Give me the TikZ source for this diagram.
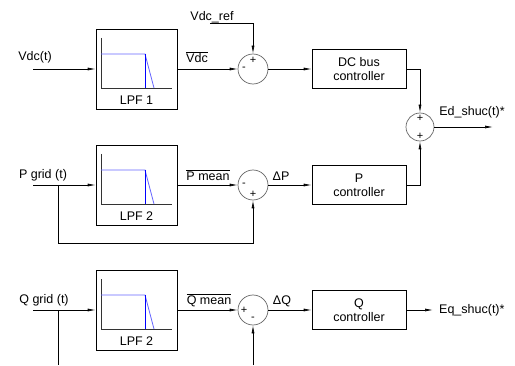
\documentclass[tikz,border=0pt]{standalone}
\usepackage{fontspec}
\setmainfont{Liberation Sans}
\usetikzlibrary{arrows.meta}

\tikzset{
  sig/.style={-{Latex[length=8pt,width=3pt]}, line width=0.7pt},
  lpfbox/.style={draw, line width=0.7pt, minimum width=81pt, minimum height=80pt},
  ctrlbox/.style={draw, line width=0.7pt, minimum width=94pt, minimum height=39pt, align=center, font=\fontsize{12.5}{14}\selectfont},
  sumnode/.style={draw=black!60, circle, line width=0.7pt, minimum size=30pt, inner sep=0pt},
  lbl/.style={font=\fontsize{12.5}{14}\selectfont, inner sep=1pt},
  sign/.style={font=\fontsize{11}{11}\selectfont, inner sep=0pt}
}

\begin{document}
\begin{tikzpicture}[x=1pt, y=1pt]
  \useasboundingbox (0,0) rectangle (515,365);

  % filtre LPF 1
  \begin{scope}[shift={(0,296)}]
    \node[lpfbox] (lpf1) at (136.5,0) {};
    \draw[black!80, line width=0.4pt] (101,31) -- (101,-19) -- (172,-19);
    \draw[blue!60, line width=0.8pt] (101,15) -- (145,15) -- (154,-19);
    \draw[blue, line width=0.8pt] (145,15) -- (145,-19);
    \node[lbl] (lpf1txt) at (136.5,-31) {LPF 1};
  \end{scope}
  % filtre LPF 2 (P)
  \begin{scope}[shift={(0,180)}]
    \node[lpfbox] (lpf2) at (136.5,0) {};
    \draw[black!80, line width=0.4pt] (101,31) -- (101,-19) -- (172,-19);
    \draw[blue!60, line width=0.8pt] (101,15) -- (145,15) -- (154,-19);
    \draw[blue, line width=0.8pt] (145,15) -- (145,-19);
    \node[lbl] (lpf2txt) at (136.5,-31) {LPF 2};
  \end{scope}
  % filtre LPF 2 (Q)
  \begin{scope}[shift={(0,55)}]
    \node[lpfbox] (lpf3) at (136.5,0) {};
    \draw[black!80, line width=0.4pt] (101,31) -- (101,-19) -- (172,-19);
    \draw[blue!60, line width=0.8pt] (101,15) -- (145,15) -- (154,-19);
    \draw[blue, line width=0.8pt] (145,15) -- (145,-19);
    \node[lbl] (lpf3txt) at (136.5,-31) {LPF 2};
  \end{scope}

  % sommateurs et correcteurs
  \node[sumnode] (sum1) at (253,296) {};
  \node[sumnode] (sum2) at (253,180) {};
  \node[sumnode] (sum3) at (253,55) {};
  \node[sumnode, minimum size=28pt] (sumE) at (420,238) {};
  \node[ctrlbox] (dcbus) at (359,296) {DC bus\\controller};
  \node[ctrlbox] (pctrl) at (359,180) {P\\controller};
  \node[ctrlbox] (qctrl) at (359,55) {Q\\controller};

  % signes
  \node[sign] at (253,305) {+}; \node[sign] at (244,296) {-};
  \node[sign] at (244,180) {-}; \node[sign] at (253,171) {+};
  \node[sign] at (244,55) {+};  \node[sign] at (253,46) {-};
  \node[sign] at (420,247) {+}; \node[sign] at (420,229) {+};

  % textes
  \node[lbl] (vdct) at (35,308) {Vdc(t)};
  \node[lbl] (vdcref) at (212,348) {Vdc\_ref};
  \node[lbl] (vdcm) at (197,308) {$\overline{\hbox{Vdc}}$};
  \node[lbl] (pgrid) at (43,190) {P grid (t)};
  \node[lbl] (pmean) at (208,190) {$\overline{\hbox{P mean}}$};
  \node[lbl] (dp) at (281,189) {ΔP};
  \node[lbl] (qgrid) at (44,65) {Q grid (t)};
  \node[lbl] (qmean) at (209,65) {$\overline{\hbox{Q mean}}$};
  \node[lbl] (dq) at (282,64) {ΔQ};
  \node[lbl] (edout) at (472,253) {Ed\_shuc(t)*};
  \node[lbl, anchor=west] (eqout) at (438,55) {Eq\_shuc(t)*};

  % points libres
  \coordinate (vin) at (33,296);
  \coordinate (refin) at (210,342);
  \coordinate (pin) at (33,180);
  \coordinate (pbr) at (58,180);
  \coordinate (qin) at (33,55);
  \coordinate (qbr) at (58,55);
  \coordinate (qbot) at (58,0);
  \coordinate (qfb) at (253,0);
  \coordinate (edend) at (493,238);
  \coordinate (eqend) at (433,55);

  % liaisons
  \draw[sig] (vin) -- (lpf1);
  \draw[sig] (lpf1) -- (sum1);
  \draw[sig] (refin) -| (sum1);
  \draw[sig] (sum1) -- (dcbus);
  \draw[sig] (dcbus.east) -| (sumE);
  \draw[sig] (sumE) -- (edend);
  \draw[sig] (pin) -- (lpf2);
  \draw[sig] (lpf2) -- (sum2);
  \draw[sig] (pbr) -- (58,122) -| (sum2);
  \draw[sig] (sum2) -- (pctrl);
  \draw[sig] (pctrl.east) -| (sumE);
  \draw[sig] (qin) -- (lpf3);
  \draw[sig] (lpf3) -- (sum3);
  \draw[line width=0.7pt] (qbr) -- (qbot);
  \draw[sig] (qfb) -- (sum3);
  \draw[sig] (sum3) -- (qctrl);
  \draw[sig] (qctrl) -- (eqend);
\end{tikzpicture}
\end{document}
